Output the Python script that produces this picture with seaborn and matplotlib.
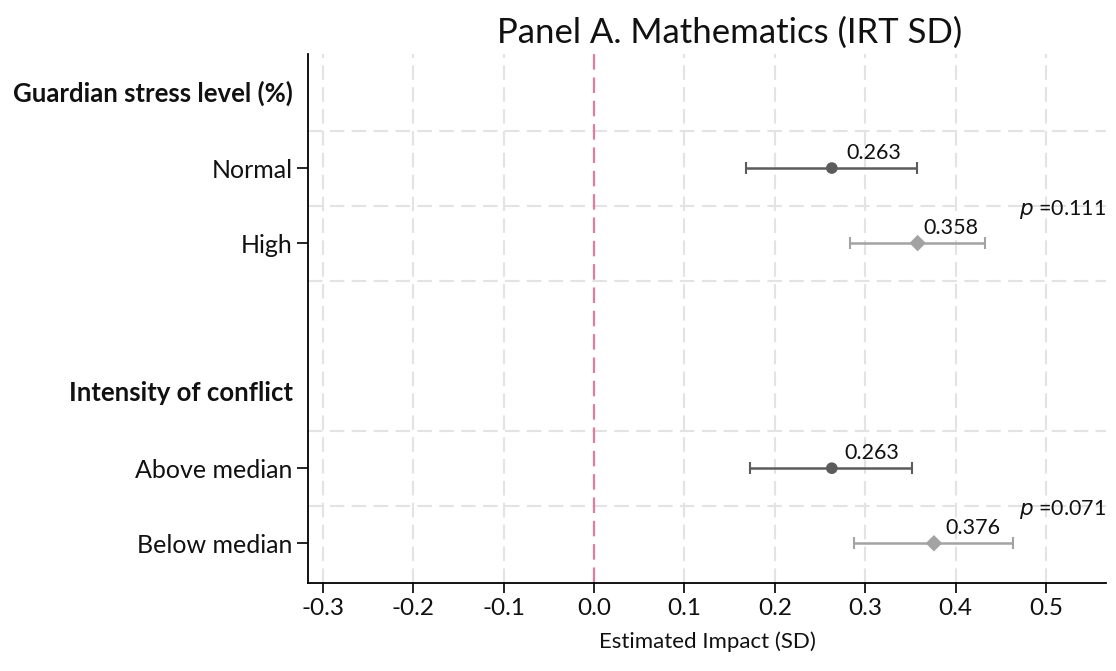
import matplotlib
matplotlib.use("Agg")
import matplotlib.pyplot as plt
import matplotlib.transforms as mtransforms
import seaborn as sns
import pandas as pd

# Subgroup estimates with 95% confidence intervals
groups = ["Normal", "High", "Above median", "Below median"]
estimates = [0.263, 0.358, 0.263, 0.376]
ci_low = [0.168, 0.283, 0.173, 0.288]
ci_high = [0.357, 0.432, 0.352, 0.463]
level = ["ref", "alt", "ref", "alt"]

headers = ["Guardian stress level (%)", "Intensity of conflict"]
p_values = ["0.111", "0.071"]
x_ticks = [-0.3, -0.2, -0.1, 0.0, 0.1, 0.2, 0.3, 0.4, 0.5]

# row layout: headers sit above each block of two subgroup rows
row_y = [1, 2, 5, 6]
header_y = [0, 4]
sep_y = [0.5, 1.5, 2.5, 4.5, 5.5]
pval_y = [1.55, 5.55]

sns.set_theme(style="white")
FONT = "Lato"
plt.rcParams["font.family"] = [FONT, "DejaVu Sans"]

df = pd.DataFrame({"group": groups, "est": estimates, "lo": ci_low,
                   "hi": ci_high, "level": level, "y": row_y})

W, H = 1116, 671
fig = plt.figure(figsize=(W / 100, H / 100), dpi=100)
ax = fig.add_axes([308 / W, (H - 583) / H, (1106 - 308) / W, (583 - 54) / H])

dash = (0, (7, 3.5))
grid_col = "#e3e3e3"
for xv in x_ticks:
    if xv != 0.0:
        ax.axvline(xv, color=grid_col, lw=1.5, ls=dash, zorder=0)
for yv in sep_y:
    ax.axhline(yv, color=grid_col, lw=1.5, ls=dash, zorder=0)
ax.axvline(0.0, color="#e27c9c", lw=1.6, ls=dash, zorder=1)

palette = {"ref": "#5c5c5c", "alt": "#a3a3a3"}
for _, r in df.iterrows():
    ax.errorbar(r["est"], r["y"], xerr=[[r["est"] - r["lo"]], [r["hi"] - r["est"]]],
                fmt="none", ecolor=palette[r["level"]], elinewidth=1.8,
                capsize=4.5, capthick=1.5, zorder=2)

sns.scatterplot(data=df, x="est", y="y", hue="level", style="level",
                palette=palette, markers={"ref": "o", "alt": "D"},
                s=70, edgecolor="none", legend=False, ax=ax, zorder=3)

for _, r in df.iterrows():
    ax.text((r["est"] + r["hi"]) / 2, r["y"] - 0.2, f"{r['est']:.3f}",
            ha="center", va="center", fontsize=15.5, color="#111111")

row_tr = mtransforms.blended_transform_factory(ax.transAxes, ax.transData)
for py, pv in zip(pval_y, p_values):
    ax.text(1.0, py, r"$p$" + " =" + pv, transform=row_tr,
            ha="right", va="center", fontsize=15.5, color="#111111")

ax.set_xlim(-0.3166, 0.5664)
ax.set_ylim(6.53, -0.52)
ax.set_xticks(x_ticks)
ax.set_xticklabels([f"{v:.1f}" for v in x_ticks], fontsize=17.5, color="#111111")
ax.set_yticks(row_y)
ax.set_yticklabels(groups, fontsize=18, color="#111111")
ax.tick_params(axis="x", length=7.2, width=1.2, pad=3.6, color="black", bottom=True)
ax.tick_params(axis="y", length=8, width=1.2, pad=3, color="black", left=True)
ax.set_xlabel("Estimated Impact (SD)", fontsize=16, labelpad=9, color="#111111")
ax.set_ylabel("")

# bold block headings, right-aligned with the category labels
hdr_tr = mtransforms.offset_copy(row_tr, fig=fig, x=-15, y=0, units="dots")
for hy, ht in zip(header_y, headers):
    ax.text(0, hy, ht, transform=hdr_tr, ha="right", va="center",
            fontsize=18.5, fontweight="bold", color="#111111")

for side in ["top", "right"]:
    ax.spines[side].set_visible(False)
for side in ["left", "bottom"]:
    ax.spines[side].set_color("black")
    ax.spines[side].set_linewidth(1.3)

fig.text(730 / W, 1 - 33 / H, "Panel A. Mathematics (IRT SD)",
         ha="center", va="center", fontsize=25, color="#111111")

fig.savefig("out.png", dpi=100, facecolor="white")
